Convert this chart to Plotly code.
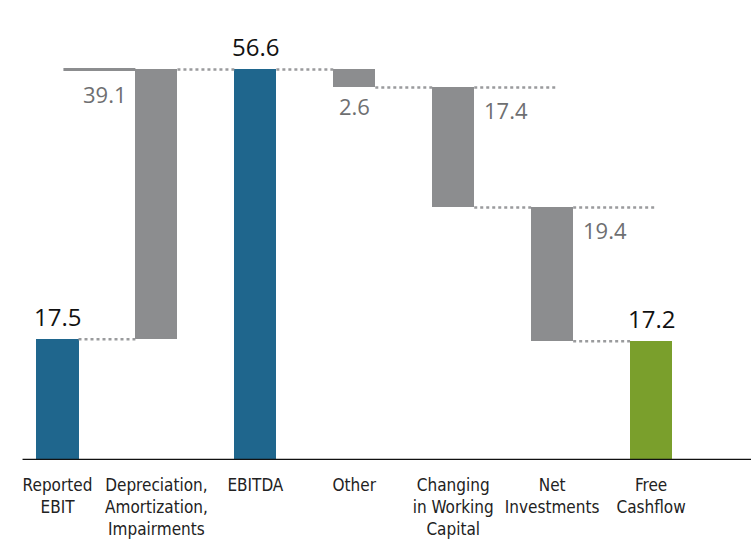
import plotly.graph_objects as go

# Cash-flow bridge from reported EBIT to free cash flow
categories = [
    "Reported<br>EBIT",
    "Depreciation,<br>Amortization,<br>Impairments",
    "EBITDA",
    "Other",
    "Changing<br>in Working<br>Capital",
    "Net<br>Investments",
    "Free<br>Cashflow",
]
measures = ["absolute", "relative", "total", "relative", "relative", "relative", "total"]
values = [17.5, 39.1, 56.6, -2.6, -17.4, -19.4, 17.2]

BLUE = "#1f668d"
GREY = "#8c8d8f"
GREEN = "#7a9f2c"
bar_colors = [BLUE, GREY, BLUE, GREY, GREY, GREY, GREEN]

# running levels of the bridge
bases, tops, levels = [], [], []
level = 0.0
for m, v in zip(measures, values):
    if m == "absolute":
        start, level = 0.0, v
    elif m == "total":
        start = 0.0
    else:
        start = level
        level = level + v
    lo, hi = (start, level) if m != "total" else (0.0, level)
    bases.append(min(lo, hi))
    tops.append(max(lo, hi))
    levels.append(level)

x = list(range(len(categories)))
W = 0.425

fig = go.Figure()
fig.add_trace(go.Bar(
    x=x,
    y=[t - b for t, b in zip(tops, bases)],
    base=bases,
    width=W,
    marker=dict(color=bar_colors, line=dict(width=0)),
    hoverinfo="skip",
    showlegend=False,
))

shapes = []
dot = dict(color="#9a9b9d", width=2.5, dash="dot")
# connectors between consecutive bars
for i in range(len(x) - 1):
    shapes.append(dict(type="line", xref="x", yref="y",
                       x0=x[i] + W / 2, x1=x[i + 1] - W / 2,
                       y0=levels[i], y1=levels[i], line=dot))
# extension lines at the top of the two large outflows
for i in (4, 5):
    shapes.append(dict(type="line", xref="x", yref="y",
                       x0=x[i] + W / 2, x1=x[i] + W / 2 + 0.82,
                       y0=tops[i], y1=tops[i], line=dot))
# solid guide at the EBITDA level leading into the add-back bar
shapes.append(dict(type="line", xref="x", yref="y",
                   x0=x[0] + 0.06, x1=x[1] - W / 2,
                   y0=tops[1], y1=tops[1],
                   line=dict(color=GREY, width=3)))
# baseline
shapes.append(dict(type="line", xref="paper", yref="y",
                   x0=0.03, x1=1, y0=0, y1=0,
                   line=dict(color="#111111", width=2.5)))

annotations = []
dark_font = dict(family="Open Sans, Roboto, sans-serif", size=24, color="#111111")
grey_font = dict(family="Open Sans, Roboto, sans-serif", size=22, color="#6e6f71")
for i, (m, v) in enumerate(zip(measures, values)):
    txt = f"{abs(v):.1f}"
    if m in ("absolute", "total"):
        annotations.append(dict(x=x[i], y=tops[i], text=txt, showarrow=False,
                                xanchor="center", yanchor="bottom", yshift=4,
                                font=dark_font))
    elif i == 1:
        annotations.append(dict(x=x[i] - W / 2, y=tops[i], text=txt, showarrow=False,
                                xanchor="right", yanchor="top", xshift=-6, yshift=-8,
                                font=grey_font))
    elif i == 3:
        annotations.append(dict(x=x[i], y=bases[i], text=txt, showarrow=False,
                                xanchor="center", yanchor="top", yshift=-2,
                                font=grey_font))
    else:
        annotations.append(dict(x=x[i] + W / 2, y=tops[i], text=txt, showarrow=False,
                                xanchor="left", yanchor="top", xshift=8, yshift=-6,
                                font=grey_font))

PX_PER_UNIT = 6.9
fig.update_layout(
    width=751, height=552,
    margin=dict(l=0, r=0, t=0, b=0),
    paper_bgcolor="white", plot_bgcolor="white",
    bargap=0,
    shapes=shapes,
    annotations=annotations,
    xaxis=dict(
        domain=[0, 1],
        range=[-0.581, 7.010],
        tickmode="array", tickvals=x, ticktext=categories,
        ticks="", showgrid=False, zeroline=False, showline=False,
        ticklabelstandoff=13,
        tickfont=dict(family="Liberation Sans Narrow, DejaVu Sans Condensed, sans-serif",
                      size=17, color="#222222"),
    ),
    yaxis=dict(
        domain=[(552 - 460) / 552, 1],
        range=[0, 460 / PX_PER_UNIT],
        showgrid=False, zeroline=False, showline=False, showticklabels=False,
    ),
)

fig.write_html("out.html")
